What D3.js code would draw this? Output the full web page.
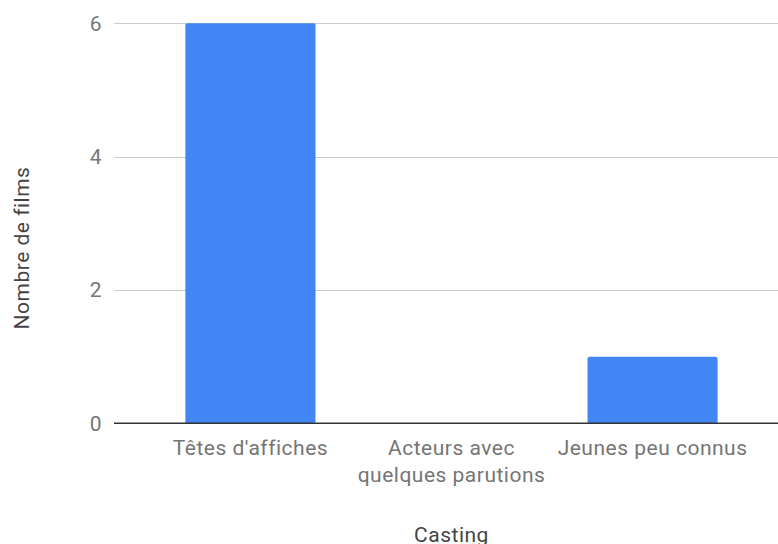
<!DOCTYPE html>
<html lang="fr">
<head>
  <meta charset="UTF-8">
  <title>Casting</title>
  <style>
    body { margin: 0; background: #fff; }
    text { font-family: Roboto, "Noto Sans", sans-serif; }
    .tick-label { fill: #757575; font-size: 21px; letter-spacing: 0.5px; }
    .axis-title { fill: #444; font-size: 21px; letter-spacing: 0.5px; }
  </style>
</head>
<body>
  <svg id="chart" width="778" height="544"></svg>
  <script src="https://d3js.org/d3.v7.min.js"></script>
  <script>
    // données du graphique
    const categories = ["Têtes d'affiches", "Acteurs avec quelques parutions", "Jeunes peu connus"];
    const categoryLines = [["Têtes d'affiches"], ["Acteurs avec", "quelques parutions"], ["Jeunes peu connus"]];
    const values = [6, 0, 1];
    const yTicks = [0, 2, 4, 6];

    const width = 778, height = 544;
    const svg = d3.select("#chart");

    const x = d3.scaleBand().domain(categories).range([150, 753]).paddingInner(0.353).paddingOuter(0.176);
    const y = d3.scaleLinear().domain([0, 6]).range([423.3, 23.3]);

    const gridLeft = 114;

    // lignes de grille
    svg.append("g").selectAll("line").data(yTicks.filter(d => d !== 0)).join("line")
      .attr("x1", gridLeft).attr("x2", width)
      .attr("y1", d => Math.round(y(d)) + 0.5).attr("y2", d => Math.round(y(d)) + 0.5)
      .attr("stroke", "#cccccc").attr("stroke-width", 1);

    // barres avec coins supérieurs arrondis
    const r = 2;
    svg.append("g").selectAll("path").data(values.map((v, i) => ({cat: categories[i], v})))
      .join("path")
      .filter(d => d.v > 0)
      .attr("fill", "#4285f4")
      .attr("d", d => {
        const x0 = x(d.cat), w = x.bandwidth(), y0 = y(d.v), y1 = y(0);
        return `M${x0},${y1}V${y0 + r}Q${x0},${y0} ${x0 + r},${y0}H${x0 + w - r}Q${x0 + w},${y0} ${x0 + w},${y0 + r}V${y1}Z`;
      });

    // ligne de base
    svg.append("line")
      .attr("x1", gridLeft).attr("x2", width)
      .attr("y1", y(0)).attr("y2", y(0))
      .attr("stroke", "#333").attr("stroke-width", 1.5);

    // étiquettes de l'axe y
    svg.append("g").selectAll("text").data(yTicks).join("text")
      .attr("class", "tick-label")
      .attr("x", 102).attr("y", d => y(d) + 7.5)
      .attr("text-anchor", "end")
      .text(d => d);

    // étiquettes de l'axe x
    const xl = svg.append("g").selectAll("text").data(categories).join("text")
      .attr("class", "tick-label")
      .attr("text-anchor", "middle")
      .attr("x", d => x(d) + x.bandwidth() / 2)
      .attr("y", 455);
    xl.each(function(d, i) {
      d3.select(this).selectAll("tspan").data(categoryLines[i]).join("tspan")
        .attr("x", x(d) + x.bandwidth() / 2)
        .attr("dy", (t, j) => j === 0 ? 0 : 26.7)
        .text(t => t);
    });

    // titres des axes
    svg.append("text").attr("class", "axis-title")
      .attr("x", x(categories[1]) + x.bandwidth() / 2).attr("y", 541.7)
      .attr("text-anchor", "middle").text("Casting");

    svg.append("text").attr("class", "axis-title")
      .attr("transform", "translate(29,248) rotate(-90)")
      .attr("text-anchor", "middle").text("Nombre de films");
  </script>
</body>
</html>
